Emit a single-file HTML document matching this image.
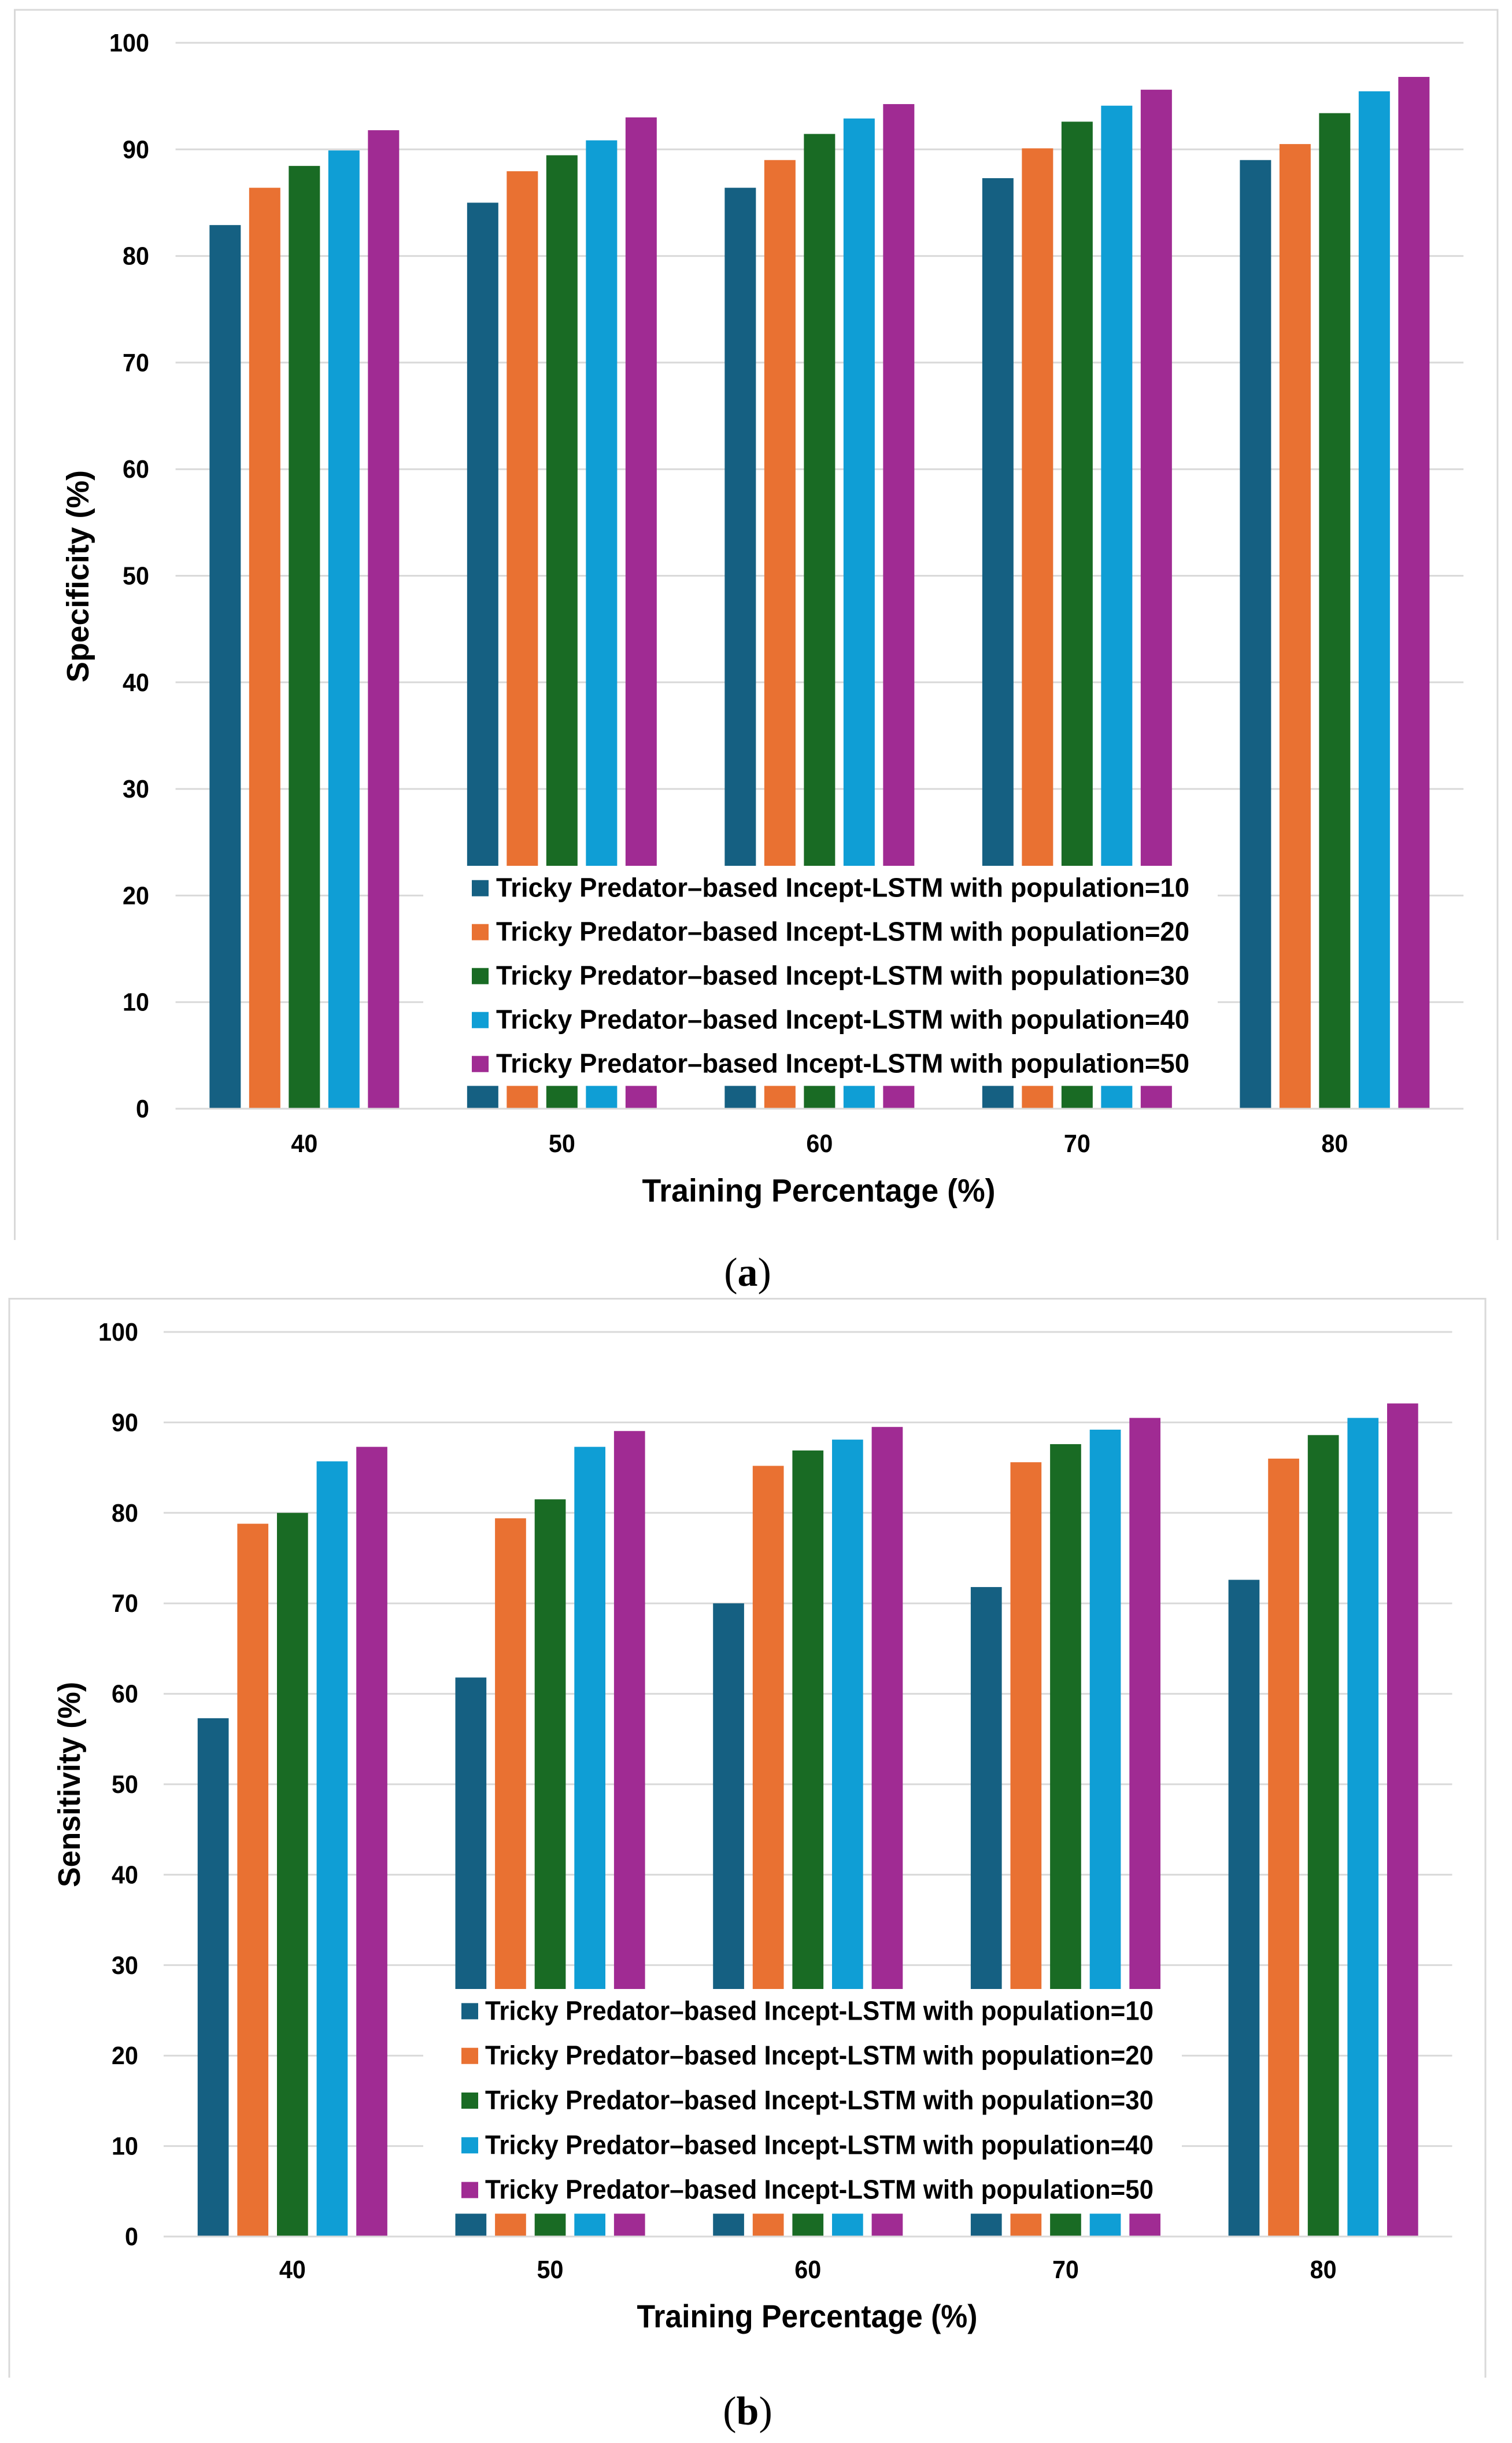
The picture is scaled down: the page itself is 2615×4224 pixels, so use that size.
<!DOCTYPE html>
<html lang="en">
<head>
<meta charset="utf-8">
<title>Specificity and Sensitivity by Training Percentage</title>
<style>
html,body{margin:0;padding:0;background:#fff;width:2615px;height:4224px;overflow:hidden}
svg{display:block}
text{font-family:"Liberation Sans",sans-serif;font-weight:700;fill:#000}
.caption{font-family:"Liberation Serif",serif;font-weight:400;font-size:70px}
</style>
</head>
<body>
<svg id="figure" xmlns="http://www.w3.org/2000/svg" width="2615" height="4224" viewBox="0 0 2615 4224">
  <rect x="0" y="0" width="2615" height="4224" fill="#ffffff"/>
  <path d="M25.5 2144V17H2590V2144" fill="none" stroke="#d9d9d9" stroke-width="3"/>
  <path d="M16 4111V2245.5H2569V4111" fill="none" stroke="#d9d9d9" stroke-width="3"/>
  <g id="chart-a"></g>
  <g id="chart-b"></g>
  <text class="caption" x="1293" y="2223" text-anchor="middle">(<tspan font-weight="700">a</tspan>)</text>
  <text class="caption" x="1293" y="4192" text-anchor="middle">(<tspan font-weight="700">b</tspan>)</text>
</svg>
<script>
const categories = [40, 50, 60, 70, 80];
const yTicks = [0, 10, 20, 30, 40, 50, 60, 70, 80, 90, 100];
const seriesNames = [
  "Tricky Predator–based Incept-LSTM with population=10",
  "Tricky Predator–based Incept-LSTM with population=20",
  "Tricky Predator–based Incept-LSTM with population=30",
  "Tricky Predator–based Incept-LSTM with population=40",
  "Tricky Predator–based Incept-LSTM with population=50"
];
const seriesColors = ["#156082", "#E97132", "#196B24", "#0F9ED5", "#A02B93"];

const specificityPop10 = [82.9, 85.0, 86.4, 87.3, 89.0];
const specificityPop20 = [86.4, 87.95, 89.0, 90.1, 90.5];
const specificityPop30 = [88.45, 89.45, 91.45, 92.6, 93.4];
const specificityPop40 = [89.9, 90.85, 92.9, 94.1, 95.45];
const specificityPop50 = [91.8, 93.0, 94.25, 95.6, 96.8];

const sensitivityPop10 = [57.3, 61.8, 70.0, 71.8, 72.6];
const sensitivityPop20 = [78.8, 79.4, 85.2, 85.6, 86.0];
const sensitivityPop30 = [80.0, 81.5, 86.9, 87.6, 88.6];
const sensitivityPop40 = [85.7, 87.3, 88.1, 89.2, 90.5];
const sensitivityPop50 = [87.3, 89.05, 89.5, 90.5, 92.1];

const SVG_NS = "http://www.w3.org/2000/svg";

function svgEl(tag, parent) {
  const el = document.createElementNS(SVG_NS, tag);
  parent.appendChild(el);
  return el;
}

function setProps(el, props) {
  for (const key in props) {
    el.setAttribute(key, props[key]);
  }
}

function drawChart(root, series, cfg) {
  const yScale = function (v) {
    return cfg.y0 - v * (cfg.y0 - cfg.y100) / 100;
  };
  const xCenter = function (i) {
    return cfg.plotLeft + cfg.band * (i + 0.5);
  };
  const plotRight = cfg.plotLeft + cfg.band * categories.length;
  const offsetCenter = (series.length - 1) / 2;

  yTicks.forEach(function (tick) {
    if (tick === 0) return;
    const line = svgEl("line", root);
    
    
    setProps(line, { x1: cfg.plotLeft, x2: plotRight, y1: yScale(tick), y2: yScale(tick), stroke: "#d9d9d9", "stroke-width": 3 });
  });

  series.forEach(function (values, s) {
    values.forEach(function (value, c) {
      const bar = svgEl("rect", root);
      
      
      const cx = xCenter(c) + (s - offsetCenter) * cfg.barPitch;
      setProps(bar, { x: cx - cfg.barWidth / 2, y: yScale(value), width: cfg.barWidth, height: yScale(0) - yScale(value), fill: seriesColors[s] });
    });
  });

  const axisLine = svgEl("line", root);
  
  
  setProps(axisLine, { x1: cfg.plotLeft, x2: plotRight, y1: yScale(0), y2: yScale(0), stroke: "#d9d9d9", "stroke-width": 3 });

  yTicks.forEach(function (tick) {
    const label = svgEl("text", root);
    
    
    setProps(label, { x: cfg.yTickRight, y: yScale(tick) + 15, "text-anchor": "end", "font-size": 44, textLength: String(tick).length * 23, lengthAdjust: "spacingAndGlyphs" });
    label.textContent = tick;
  });

  categories.forEach(function (cat, i) {
    const label = svgEl("text", root);
    
    
    setProps(label, { x: xCenter(i), y: cfg.xTickBaseline, "text-anchor": "middle", "font-size": 44, textLength: String(cat).length * 23, lengthAdjust: "spacingAndGlyphs" });
    label.textContent = cat;
  });

  const xTitle = svgEl("text", root);
  
  
  setProps(xTitle, { x: cfg.xTitleCenter, y: cfg.xTitleBaseline, "text-anchor": "middle", "font-size": 56, textLength: cfg.xTitleLength, lengthAdjust: "spacingAndGlyphs" });
  xTitle.textContent = "Training Percentage (%)";

  const yTitle = svgEl("text", root);
  
  
  setProps(yTitle, { x: 0, y: 0, transform: "translate(" + cfg.yTitleBaseline + " " + cfg.yTitleCenter + ") rotate(-90)", "text-anchor": "middle", "font-size": 54, textLength: cfg.yTitleLength, lengthAdjust: "spacingAndGlyphs" });
  yTitle.textContent = cfg.yTitle;

  const legendBg = svgEl("rect", root);
  
  
  setProps(legendBg, { x: cfg.legendLeft, y: cfg.legendTop, width: cfg.legendRight - cfg.legendLeft, height: cfg.legendBottom - cfg.legendTop, fill: "#ffffff" });

  seriesNames.forEach(function (name, i) {
    const center = cfg.legendFirst + cfg.legendStep * i;
    const swatch = svgEl("rect", root);
    
    
    setProps(swatch, { x: cfg.swatchX, y: center - 14, width: 29, height: 28, fill: seriesColors[i] });
    const text = svgEl("text", root);
    
    
    setProps(text, { x: cfg.legendTextX, y: center + 15, "font-size": 46, textLength: cfg.legendTextLength, lengthAdjust: "spacingAndGlyphs" });
    text.textContent = name;
  });
}

drawChart(
  document.getElementById("chart-a"),
  [specificityPop10, specificityPop20, specificityPop30, specificityPop40, specificityPop50],
  { plotLeft: 303.6, band: 445.5, y0: 1917, y100: 74, barWidth: 54, barPitch: 68.5,
    yTickRight: 258, xTickBaseline: 1992,
    xTitleCenter: 1416, xTitleBaseline: 2077.5, xTitleLength: 611,
    yTitle: "Specificity (%)", yTitleBaseline: 153, yTitleCenter: 996.5, yTitleLength: 367,
    legendLeft: 732, legendRight: 2106, legendTop: 1497, legendBottom: 1877.5,
    legendFirst: 1535.7, legendStep: 76, swatchX: 816, legendTextX: 858, legendTextLength: 1199 }
);

drawChart(
  document.getElementById("chart-b"),
  [sensitivityPop10, sensitivityPop20, sensitivityPop30, sensitivityPop40, sensitivityPop50],
  { plotLeft: 283, band: 445.7, y0: 3867, y100: 2303, barWidth: 53.7, barPitch: 68.6,
    yTickRight: 239, xTickBaseline: 3939,
    xTitleCenter: 1396, xTitleBaseline: 4024, xTitleLength: 589,
    yTitle: "Sensitivity (%)", yTitleBaseline: 138, yTitleCenter: 3085.5, yTitleLength: 355,
    legendLeft: 732, legendRight: 2044, legendTop: 3439, legendBottom: 3827.5,
    legendFirst: 3477.4, legendStep: 77.3, swatchX: 798, legendTextX: 839, legendTextLength: 1156 }
);
</script>
</body>
</html>
